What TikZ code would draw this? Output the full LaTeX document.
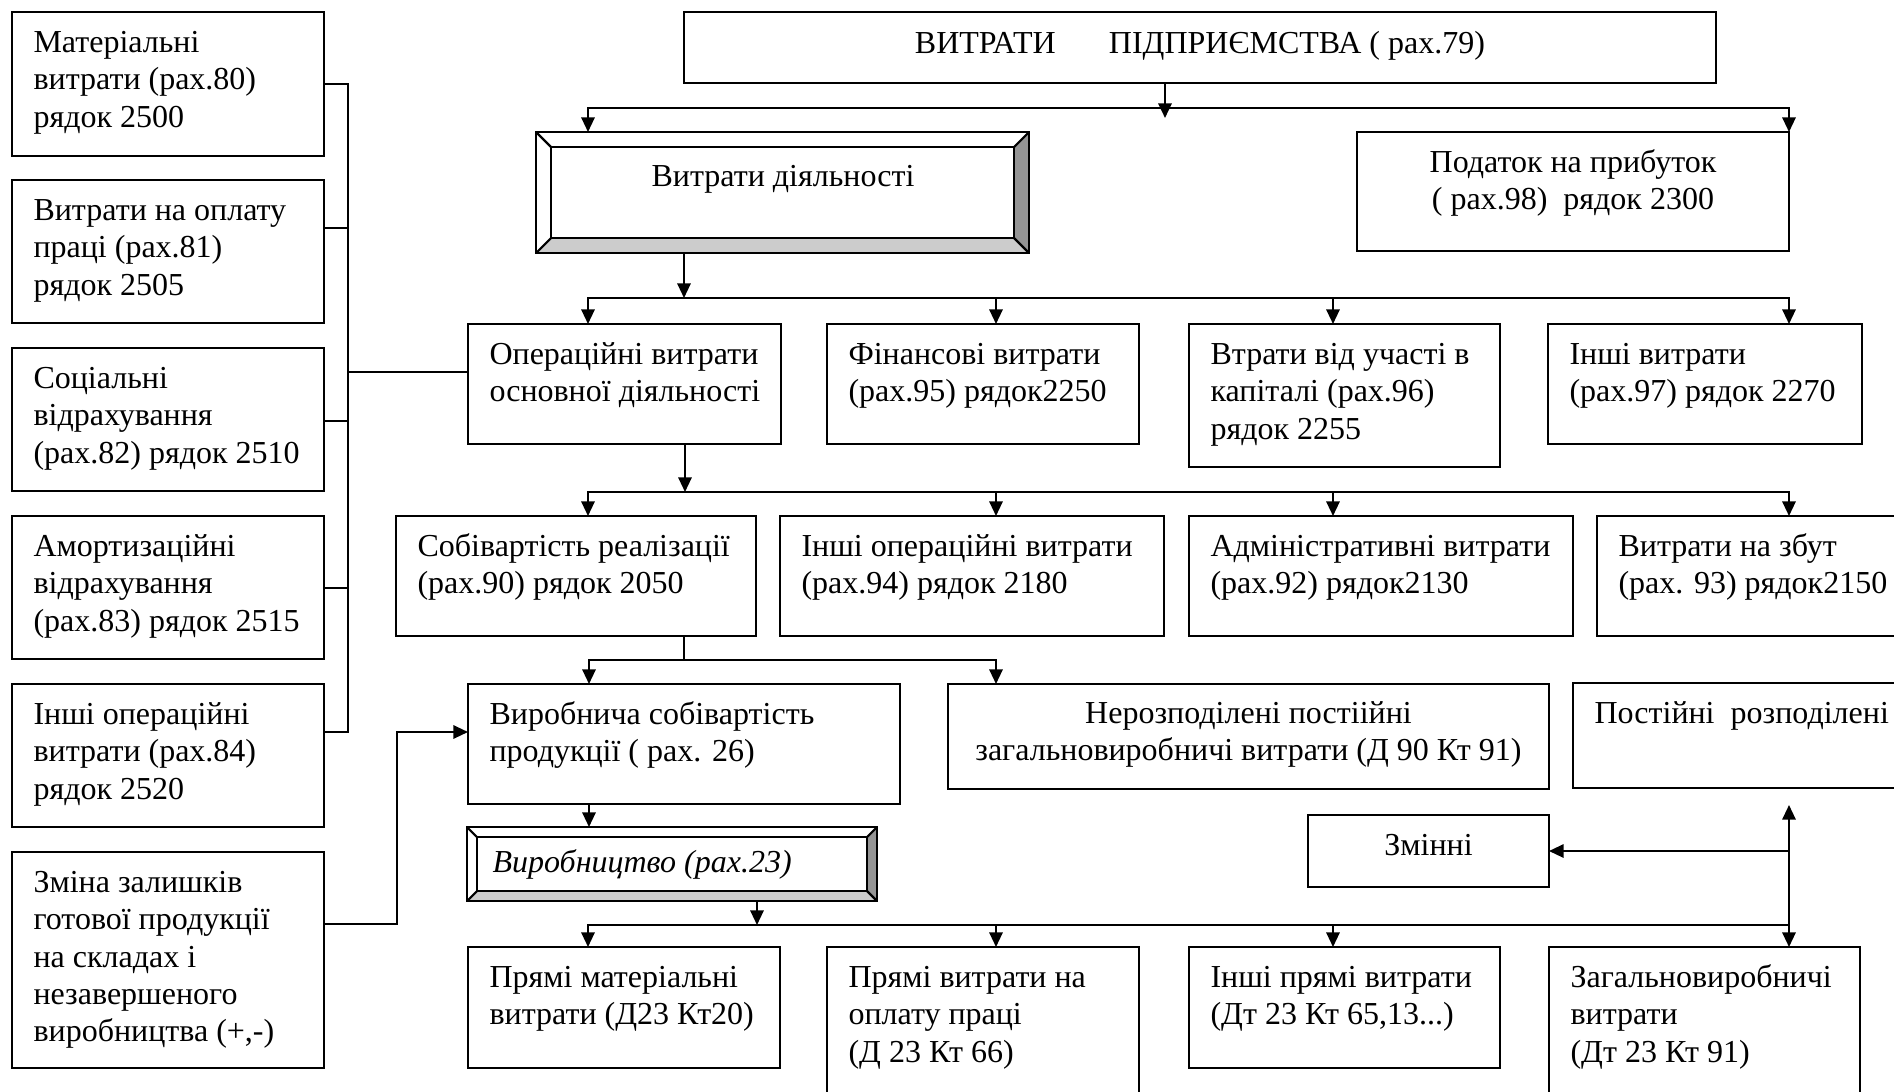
\documentclass[tikz,border=0pt]{standalone}
\usepackage{fontspec}
\setmainfont{Liberation Serif}
\usetikzlibrary{arrows.meta,fit,calc}
\newcommand\tstrut{\rule{0pt}{11pt}}
\begin{document}
\begin{tikzpicture}[x=0.375pt,y=-0.375pt,
  box/.style={draw, line width=0.8pt, inner sep=0pt, outer sep=0pt},
  txt/.style={font=\fontsize{12}{13.9}\selectfont, align=left, inner sep=0pt, anchor=north west},
  ctxt/.style={font=\fontsize{12}{13.9}\selectfont, align=center, inner sep=0pt},
  ln/.style={line width=0.8pt},
  arr/.style={line width=0.8pt, -{Triangle[length=5.5pt,width=5pt]}},
  arrb/.style={line width=0.8pt, {Triangle[length=5.5pt,width=5pt]}-{Triangle[length=5.5pt,width=5pt]}},
]
\newcommand\mybox[5]{\node[box, fit={(#2,#3) (#4,#5)}] (#1) {};}
\newcommand\mytext[3]{\node[txt] (#1) at ($(#2.north west)+(21,11)$) {\tstrut #3};}
\newcommand\bevel[6]{%
  \node[box, fit={(#2,#3) (#4,#5)}] (#1) {};
  \fill[black!42] (#4,#3) -- (#4-#6,#3+#6) -- (#4-#6,#5-#6) -- (#4,#5) -- cycle;
  \fill[black!20] (#2,#5) -- (#2+#6,#5-#6) -- (#4-#6,#5-#6) -- (#4,#5) -- cycle;
  \draw[ln] (#2,#3) rectangle (#4,#5);
  \draw[ln] (#2+#6,#3+#6) rectangle (#4-#6,#5-#6);
  \draw[ln] (#2,#3) -- (#2+#6,#3+#6) (#4,#3) -- (#4-#6,#3+#6)
            (#2,#5) -- (#2+#6,#5-#6) (#4,#5) -- (#4-#6,#5-#6);
}
\clip (0,0) rectangle (1894,1091);
\fill[white] (0,0) rectangle (1894,1091);

% ---------- left column ----------
\mybox{l1}{12}{12}{324}{156}
\mytext{l1t}{l1}{Матеріальні\\витрати (рах.80)\\рядок 2500}
\mybox{l2}{12}{180}{324}{323}
\mytext{l2t}{l2}{Витрати на оплату\\праці (рах.81)\\рядок 2505}
\mybox{l3}{12}{348}{324}{491}
\mytext{l3t}{l3}{Соціальні\\відрахування\\(рах.82) рядок 2510}
\mybox{l4}{12}{516}{324}{659}
\mytext{l4t}{l4}{Амортизаційні\\відрахування\\(рах.83) рядок 2515}
\mybox{l5}{12}{684}{324}{827}
\mytext{l5t}{l5}{Інші операційні\\витрати (рах.84)\\рядок 2520}
\mybox{l6}{12}{852}{324}{1068}
\mytext{l6t}{l6}{Зміна залишків\\готової продукції\\на складах і\\незавершеного\\виробництва (+,-)}

% ---------- top ----------
\mybox{top}{684}{12}{1716}{83}
\node[ctxt, anchor=base] (topt) at (1200,53) {ВИТРАТИ\hspace{20pt}ПІДПРИЄМСТВА ( рах.79)};
\bevel{dial}{536}{132}{1029}{253}{15}
\node[ctxt, anchor=base] (dialt) at (783,186) {Витрати діяльності};
\mybox{tax}{1357}{132}{1789}{251}
\node[ctxt, anchor=north] (taxt) at (1573,143) {\tstrut Податок на прибуток\\( рах.98)\ \ рядок 2300};

% ---------- row 2 ----------
\mybox{op}{468}{324}{781}{444}
\mytext{opt}{op}{Операційні витрати\\основної діяльності}
\mybox{fin}{827}{324}{1139}{444}
\mytext{fint}{fin}{Фінансові витрати\\(рах.95) рядок2250}
\mybox{cap}{1189}{324}{1500}{467}
\mytext{capt}{cap}{Втрати від участі в\\капіталі (рах.96)\\рядок 2255}
\mybox{oth}{1548}{324}{1862}{444}
\mytext{otht}{oth}{Інші витрати\\(рах.97) рядок 2270}

% ---------- row 3 ----------
\mybox{sob}{396}{516}{756}{636}
\mytext{sobt}{sob}{Собівартість реалізації\\(рах.90) рядок 2050}
\mybox{iop}{780}{516}{1164}{636}
\mytext{iopt}{iop}{Інші операційні витрати\\(рах.94) рядок 2180}
\mybox{adm}{1189}{516}{1573}{636}
\mytext{admt}{adm}{Адміністративні витрати\\(рах.92) рядок2130}
\mybox{zb}{1597}{516}{1920}{636}
\mytext{zbt}{zb}{Витрати на збут\\(рах. 93) рядок2150}

% ---------- row 4 ----------
\mybox{vs}{468}{684}{900}{804}
\mytext{vst}{vs}{Виробнича собівартість\\продукції ( рах. 26)}
\mybox{ner}{948}{684}{1549}{789}
\node[ctxt, anchor=north] (nert) at (1248.5,694) {\tstrut Нерозподілені постіійні\\загальновиробничі витрати (Д 90 Кт 91)};
\mybox{pos}{1573}{683}{1920}{788}
\mytext{post}{pos}{Постійні\ \ розподілені}

\bevel{vyr}{467}{827}{877}{901}{10}
\node[ctxt, anchor=base west] (vyrt) at (492,872) {\itshape Виробництво (рах.23)};

\mybox{zm}{1308}{815}{1549}{887}
\node[ctxt, anchor=base] (zmt) at (1428.5,855) {Змінні};

% ---------- row 5 ----------
\mybox{pm}{468}{947}{780}{1068}
\mytext{pmt}{pm}{Прямі матеріальні\\витрати (Д23 Кт20)}
\mybox{po}{827}{947}{1139}{1110}
\mytext{pot}{po}{Прямі витрати на\\оплату праці\\(Д 23 Кт 66)}
\mybox{ip}{1189}{947}{1500}{1068}
\mytext{ipt}{ip}{Інші прямі витрати\\(Дт 23 Кт 65,13...)}
\mybox{zv}{1549}{947}{1860}{1110}
\mytext{zvt}{zv}{Загальновиробничі\\витрати\\(Дт 23 Кт 91)}

% ---------- connectors ----------
\coordinate (b0) at (1165,118);
\draw[arr] (b0 |- top.south) -- (b0);
\coordinate (a1) at (588,108);
\coordinate (a2) at (1789,108);
\draw[arrb] (a1 |- dial.north) -- (a1) -- (a2) -- (a2 |- tax.north);

\coordinate (v1) at (684,298);
\draw[arr] (v1 |- dial.south) -- (v1);
\coordinate (c1) at (588,298);
\coordinate (c2) at (996,298);
\coordinate (c3) at (1333,298);
\coordinate (c4) at (1789,298);
\draw[arrb] (c1 |- op.north) -- (c1) -- (c4) -- (c4 |- oth.north);
\draw[arr] (c2) -- (c2 |- fin.north);
\draw[arr] (c3) -- (c3 |- cap.north);

\coordinate (v2) at (685,492);
\draw[arr] (v2 |- op.south) -- (v2);
\coordinate (d1) at (588,492);
\coordinate (d2) at (996,492);
\coordinate (d3) at (1333,492);
\coordinate (d4) at (1789,492);
\draw[arrb] (d1 |- sob.north) -- (d1) -- (d4) -- (d4 |- zb.north);
\draw[arr] (d2) -- (d2 |- iop.north);
\draw[arr] (d3) -- (d3 |- adm.north);

\coordinate (v3) at (684,660);
\draw[ln] (v3 |- sob.south) -- (v3);
\coordinate (e1) at (589,660);
\coordinate (e2) at (996,660);
\draw[arrb] (e1 |- vs.north) -- (e1) -- (e2) -- (e2 |- ner.north);

\coordinate (v4) at (589,804);
\draw[arr] (v4) -- (v4 |- vyr.north);

\coordinate (v5) at (757,925);
\draw[arr] (v5 |- vyr.south) -- (v5);
\coordinate (f1) at (588,925);
\coordinate (f2) at (996,925);
\coordinate (f3) at (1333,925);
\coordinate (f4) at (1789,925);
\draw[arrb] (f1 |- pm.north) -- (f1) -- (f4) -- (f4 |- zv.north);
\draw[arr] (f2) -- (f2 |- po.north);
\draw[arr] (f3) -- (f3 |- ip.north);
\coordinate (g1) at (1789,805);
\draw[arr] (f4) -- (g1);
\coordinate (g2) at (1789,851);
\draw[arr] (g2) -- (g2 -| zm.east);

% left bus
\coordinate (k1) at (348,84);
\coordinate (k2) at (348,228);
\coordinate (k3) at (348,421);
\coordinate (k4) at (348,588);
\coordinate (k5) at (348,732);
\coordinate (k0) at (348,372);
\draw[ln] (k1 -| l1.east) -- (k1) -- (k5) -- (k5 -| l5.east);
\draw[ln] (k2 -| l2.east) -- (k2);
\draw[ln] (k3 -| l3.east) -- (k3);
\draw[ln] (k4 -| l4.east) -- (k4);
\draw[ln] (k0) -- (k0 -| op.west);
\coordinate (m1) at (397,924);
\coordinate (m2) at (397,732);
\draw[arr] (m1 -| l6.east) -- (m1) -- (m2) -- (m2 -| vs.west);
\end{tikzpicture}
\end{document}
